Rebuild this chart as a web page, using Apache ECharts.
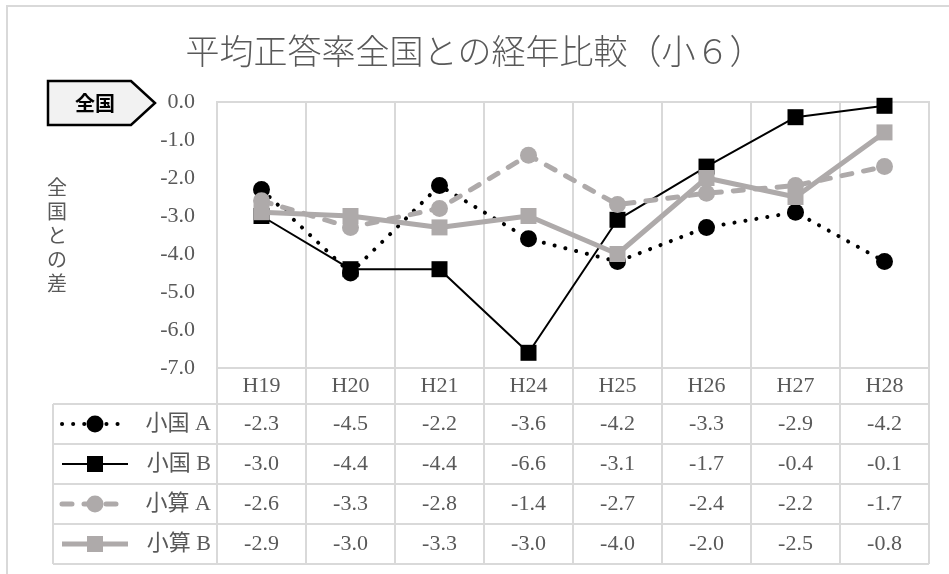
<!DOCTYPE html>
<html>
<head>
<meta charset="utf-8">
<script src="https://cdn.jsdelivr.net/npm/echarts@6/dist/echarts.min.js"></script>
<style>
html,body{margin:0;padding:0;background:#fff;}
#c{width:949px;height:574px;}
</style>
</head>
<body>
<div id="c"></div>
<script>
// ---- data ----
const categories = ['H19','H20','H21','H24','H25','H26','H27','H28'];
const seriesNames = ['小国 A','小国 B','小算 A','小算 B'];
const kokuA = [-2.3,-4.5,-2.2,-3.6,-4.2,-3.3,-2.9,-4.2];
const kokuB = [-3.0,-4.4,-4.4,-6.6,-3.1,-1.7,-0.4,-0.1];
const sanA  = [-2.6,-3.3,-2.8,-1.4,-2.7,-2.4,-2.2,-1.7];
const sanB  = [-2.9,-3.0,-3.3,-3.0,-4.0,-2.0,-2.5,-0.8];
const yTicks = [0,-1,-2,-3,-4,-5,-6,-7];
const titleText = '平均正答率全国との経年比較（小６）';
const yName = '全国との差';
const badgeText = '全国';

// ---- layout / style ----
const W = 949, H = 574;
const gL = 217, gR = 929, gT = 102, gB = 368;
const rowTop = 404, rowH = 40;
const tableLeft = 53;
const gridColor = '#d9d9d9';
const textColor = '#595959';
const grey = '#aeaaaa';
const serif = "'Liberation Serif','DejaVu Serif','Noto Sans CJK JP',serif";
const allSeries = [kokuA, kokuB, sanA, sanB];

const styles = [
  {color:'#000', lw:4, type:[0.1,11], cap:'round', symbol:'circle', size:17},
  {color:'#000', lw:2, type:'solid', cap:'butt', symbol:'rect', size:16},
  {color:grey, lw:5, type:[10,12], cap:'round', symbol:'circle', size:17},
  {color:grey, lw:5, type:'solid', cap:'butt', symbol:'rect', size:16}
];

const chart = echarts.init(document.getElementById('c'), null, {renderer:'canvas'});

const xAxes = [{
  type:'category', data:categories, gridIndex:0, position:'bottom',
  boundaryGap:true,
  axisLine:{show:true, lineStyle:{color:gridColor, width:2}},
  axisTick:{show:false},
  splitLine:{show:true, lineStyle:{color:gridColor, width:2}},
  axisLabel:{color:textColor, fontFamily:serif, fontSize:22, margin:8, lineHeight:20}
}];
allSeries.forEach((vals, k) => {
  xAxes.push({
    type:'category', data:categories, gridIndex:0, position:'bottom',
    offset: 36 + rowH*k,
    axisLine:{show:false}, axisTick:{show:false}, splitLine:{show:false},
    axisLabel:{color:textColor, fontFamily:serif, fontSize:22, margin:10, lineHeight:20,
      formatter:(v, idx) => vals[idx].toFixed(1)}
  });
});

const series = allSeries.map((vals, k) => ({
  name: seriesNames[k], type:'line', data: vals, xAxisIndex:0, yAxisIndex:0,
  symbol: styles[k].symbol, symbolSize: styles[k].size,
  itemStyle:{color: styles[k].color},
  lineStyle:{color: styles[k].color, width: styles[k].lw, type: styles[k].type, cap: styles[k].cap, join:'round'},
  z: 2 + k, animation:false
}));

// table grid lines & legend keys (graphic)
const graphics = [];
graphics.push({type:'rect', shape:{x:7, y:6, width:1000, height:700},
  style:{fill:'none', stroke:gridColor, lineWidth:2}, silent:true, z:-1});
for (let r = 0; r < 5; r++) {
  const y = rowTop + r*rowH;
  graphics.push({type:'line', shape:{x1:tableLeft, y1:y, x2:gR, y2:y}, style:{stroke:gridColor, lineWidth:2}});
}
graphics.push({type:'line', shape:{x1:tableLeft, y1:rowTop, x2:tableLeft, y2:rowTop+4*rowH}, style:{stroke:gridColor, lineWidth:2}});
const colW = (gR-gL)/categories.length;
for (let i = 0; i <= categories.length; i++) {
  const x = gL + i*colW;
  graphics.push({type:'line', shape:{x1:x, y1:gB, x2:x, y2:rowTop+4*rowH}, style:{stroke:gridColor, lineWidth:2}});
}
// legend keys
seriesNames.forEach((nm, k) => {
  const cy = rowTop + rowH*k + rowH/2;
  const s = styles[k];
  graphics.push({type:'line', shape:{x1:62, y1:cy, x2:128, y2:cy},
    style:{stroke:s.color, lineWidth:s.lw, lineDash: Array.isArray(s.type)? s.type : null, lineCap:s.cap}});
  if (s.symbol === 'rect') {
    graphics.push({type:'rect', shape:{x:95-s.size/2, y:cy-s.size/2, width:s.size, height:s.size}, style:{fill:s.color}});
  } else {
    graphics.push({type:'circle', shape:{cx:95, cy:cy, r:s.size/2}, style:{fill:s.color}});
  }
  graphics.push({type:'text', x:211, y:cy, style:{text:nm, fill:textColor, font:"22px " + serif, align:'right', verticalAlign:'middle'}});
});
// badge
graphics.push({type:'polygon', shape:{points:[[48,81],[131,81],[155,103],[131,125],[48,125]]},
  style:{fill:'#f2f2f2', stroke:'#000', lineWidth:2.5}});
graphics.push({type:'text', x:95, y:103, style:{text:badgeText, fill:'#000', font:"bold 20px 'Noto Sans CJK JP'", align:'center', verticalAlign:'middle'}});

chart.setOption({
  animation:false,
  backgroundColor:'#fff',
  title:{text:titleText, left:'center', top:29,
    textStyle:{color:textColor, fontSize:34, fontWeight:300, fontFamily:"'Noto Sans CJK JP'"}},
  grid:{left:gL, right:W-gR, top:gT, bottom:H-gB, show:true, borderColor:gridColor, borderWidth:2},
  xAxis: xAxes,
  yAxis:{type:'value', min:-7, max:0, interval:1,
    axisLine:{show:false}, axisTick:{show:false}, splitLine:{show:false},
    axisLabel:{color:textColor, fontFamily:serif, fontSize:22, margin:22,
      formatter:v => yTicks.includes(v) ? v.toFixed(1) : ''},
    name: yName.split('').join('\n'), nameLocation:'middle', nameRotate:0, nameGap:150,
    nameTextStyle:{color:textColor, fontSize:20, lineHeight:24, fontFamily:"'Noto Sans CJK JP'"}},
  series: series,
  graphic: graphics
});
</script>
</body>
</html>
